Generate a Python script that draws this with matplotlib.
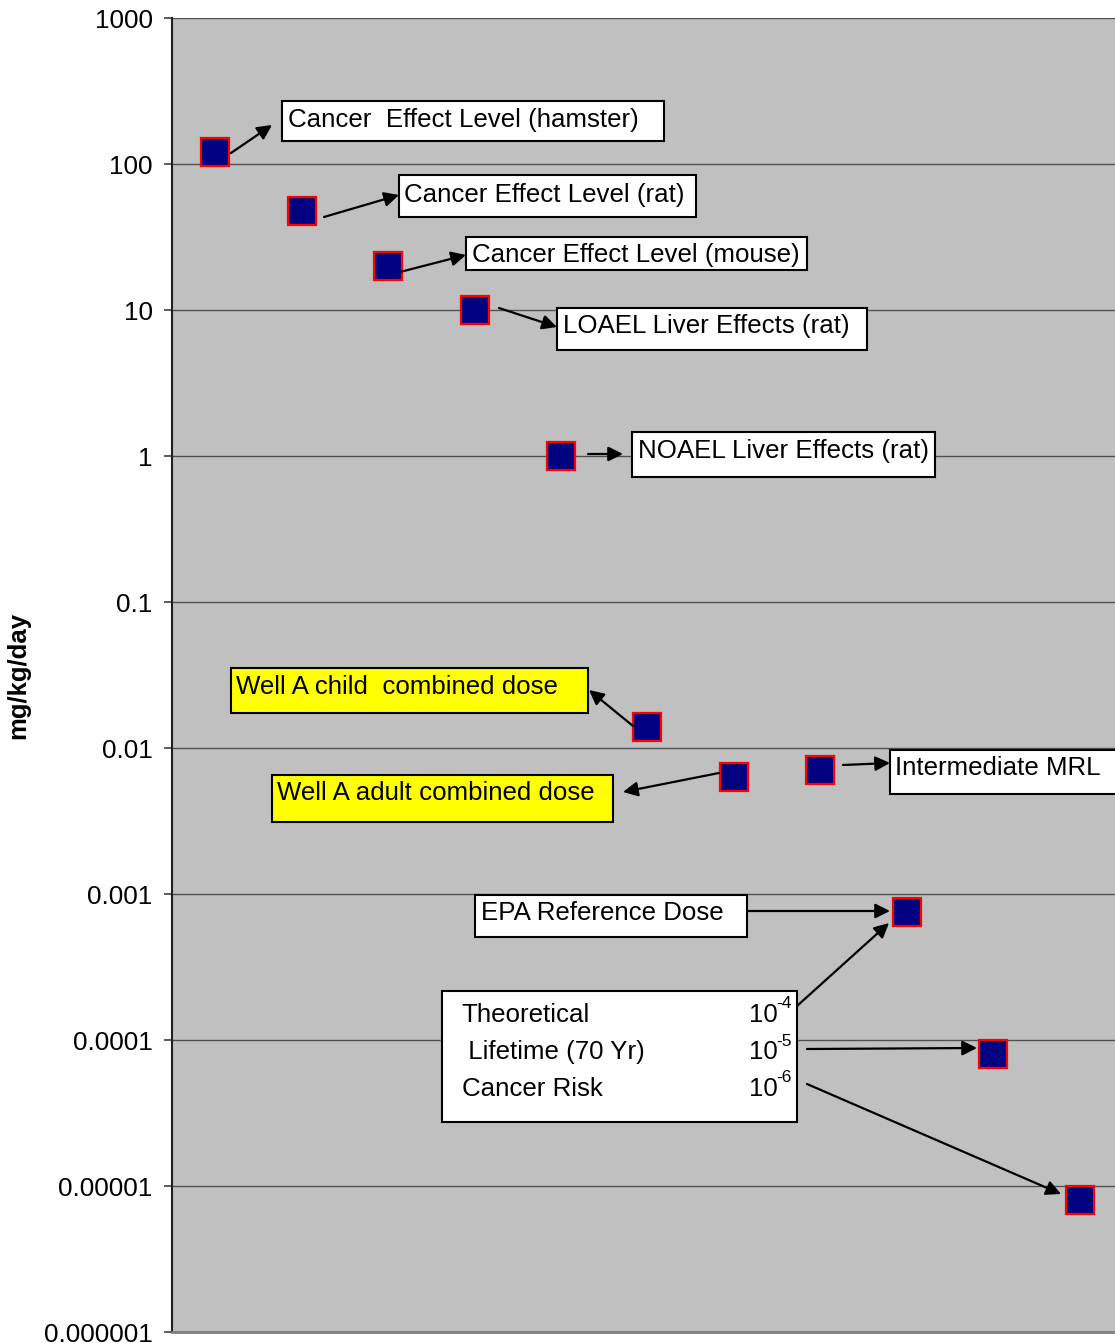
import matplotlib
matplotlib.use("Agg")
import matplotlib.pyplot as plt
from matplotlib.patches import Rectangle, FancyArrowPatch
from matplotlib.ticker import FixedLocator, FixedFormatter, NullLocator

# ---- data ----
labels = [
    "Cancer  Effect Level (hamster)",
    "Cancer Effect Level (rat)",
    "Cancer Effect Level (mouse)",
    "LOAEL Liver Effects (rat)",
    "NOAEL Liver Effects (rat)",
    "Well A child  combined dose",
    "Well A adult combined dose",
    "Intermediate MRL",
    "EPA Reference Dose",
    "Cancer Risk 10-5",
    "Cancer Risk 10-6",
]
positions = [1, 2, 3, 4, 5, 6, 7, 8, 9, 10, 11]
values = [120, 48, 20, 10, 1, 0.014, 0.0063, 0.0071, 0.00075, 0.00008, 0.000008]
ytick_values = [1e-6, 1e-5, 1e-4, 1e-3, 1e-2, 1e-1, 1, 10, 100, 1000]
ytick_labels = ["0.000001", "0.00001", "0.0001", "0.001", "0.01", "0.1",
                "1", "10", "100", "1000"]
y_label = "mg/kg/day"

FONT = "Liberation Sans"
plt.rcParams["font.family"] = [FONT, "DejaVu Sans"]

W, H = 1115, 1343
fig = plt.figure(figsize=(W / 100, H / 100), dpi=100)

def fx(x):
    return x / W

def fy(y):
    return 1 - y / H

ax = fig.add_axes([fx(172), fy(1332), (W - 172) / W, (1332 - 18) / H])
ax.set_facecolor("#C0C0C0")
ax.set_yscale("log")
ax.set_ylim(1e-6, 1e3)
ax.set_xlim(0.5, 11.41)

ax.yaxis.set_major_locator(FixedLocator(ytick_values))
ax.yaxis.set_major_formatter(FixedFormatter(ytick_labels))
ax.yaxis.set_minor_locator(NullLocator())
ax.set_xticks([])
ax.tick_params(axis="y", which="major", length=6, width=1.2, color="#404040",
               labelsize=18.8, pad=8, direction="out")
for t in ax.get_yticklabels():
    t.set_fontfamily(FONT)

ax.grid(axis="y", which="major", color="#505050", lw=1.0, zorder=0)
ax.set_axisbelow(True)
ax.spines["top"].set_visible(False)
ax.spines["right"].set_visible(False)
ax.spines["left"].set_color("#202020")
ax.spines["left"].set_linewidth(1.5)
ax.spines["bottom"].set_color("#808080")
ax.spines["bottom"].set_linewidth(2)

ax.plot(positions, values, ls="none", marker="s", ms=19.5, mfc="#000080",
        mec="#FF0000", mew=1.6, zorder=5, clip_on=False)

fig.text(fx(18), fy(675), y_label, rotation=90, ha="center", va="center",
         fontsize=18.5, fontweight="bold", family=FONT)

# ---- annotation boxes (layout in reference pixels) ----
FS = 18.6
boxes = [
    (282, 101, 664, 141, "white", labels[0], 288, 118),
    (399, 175, 696, 217, "white", labels[1], 404, 193),
    (466, 237, 807, 270, "white", labels[2], 472, 253),
    (557, 308, 867, 350, "white", labels[3], 563, 324),
    (632, 432, 935, 477, "white", labels[4], 638, 449),
    (231, 668, 588, 713, "#FFFF00", labels[5], 236, 685),
    (272, 775, 613, 822, "#FFFF00", labels[6], 277, 791),
    (890, 750, 1130, 794, "white", labels[7], 895, 766),
    (475, 895, 747, 937, "white", labels[8], 481, 911),
    (442, 991, 797, 1122, "white", None, 0, 0),
]
for x0, y0, x1, y1, fc, txt, tx, ty in boxes:
    fig.add_artist(Rectangle((fx(x0), fy(y1)), (x1 - x0) / W, (y1 - y0) / H,
                             transform=fig.transFigure, fc=fc, ec="black",
                             lw=1.5, zorder=3))
    if txt:
        fig.text(fx(tx), fy(ty + 2), txt, ha="left", va="center", fontsize=FS,
                 family=FONT, zorder=4)

risk_lines = [("Theoretical", 461, 1013, "-4"),
              (" Lifetime (70 Yr)", 461, 1050, "-5"),
              ("Cancer Risk", 462, 1087, "-6")]
for s, tx, ty, sup in risk_lines:
    fig.text(fx(tx), fy(ty + 2), s, ha="left", va="center", fontsize=FS,
             family=FONT, zorder=4)
    fig.text(fx(749), fy(ty + 2), "10", ha="left", va="center", fontsize=FS,
             family=FONT, zorder=4)
    fig.text(fx(776), fy(ty - 9), sup, ha="left", va="center", fontsize=12.5,
             family=FONT, zorder=4)

arrows = [
    ((231, 153), (272, 125)),
    ((324, 217), (399, 195)),
    ((400, 272), (466, 255)),
    ((499, 308), (557, 327)),
    ((588, 454), (623, 454)),
    ((633, 726), (589, 690)),
    ((719, 773), (623, 792)),
    ((843, 765), (890, 763)),
    ((747, 911), (890, 911)),
    ((797, 1006), (889, 923)),
    ((807, 1049), (977, 1048)),
    ((807, 1084), (1061, 1194)),
]
for (xa, ya), (xb, yb) in arrows:
    fig.add_artist(FancyArrowPatch((fx(xa), fy(ya)), (fx(xb), fy(yb)),
                                   transform=fig.transFigure, arrowstyle="-|>",
                                   mutation_scale=22, lw=1.6, color="black",
                                   shrinkA=0, shrinkB=0, zorder=4))

fig.savefig("out.png", dpi=100)
